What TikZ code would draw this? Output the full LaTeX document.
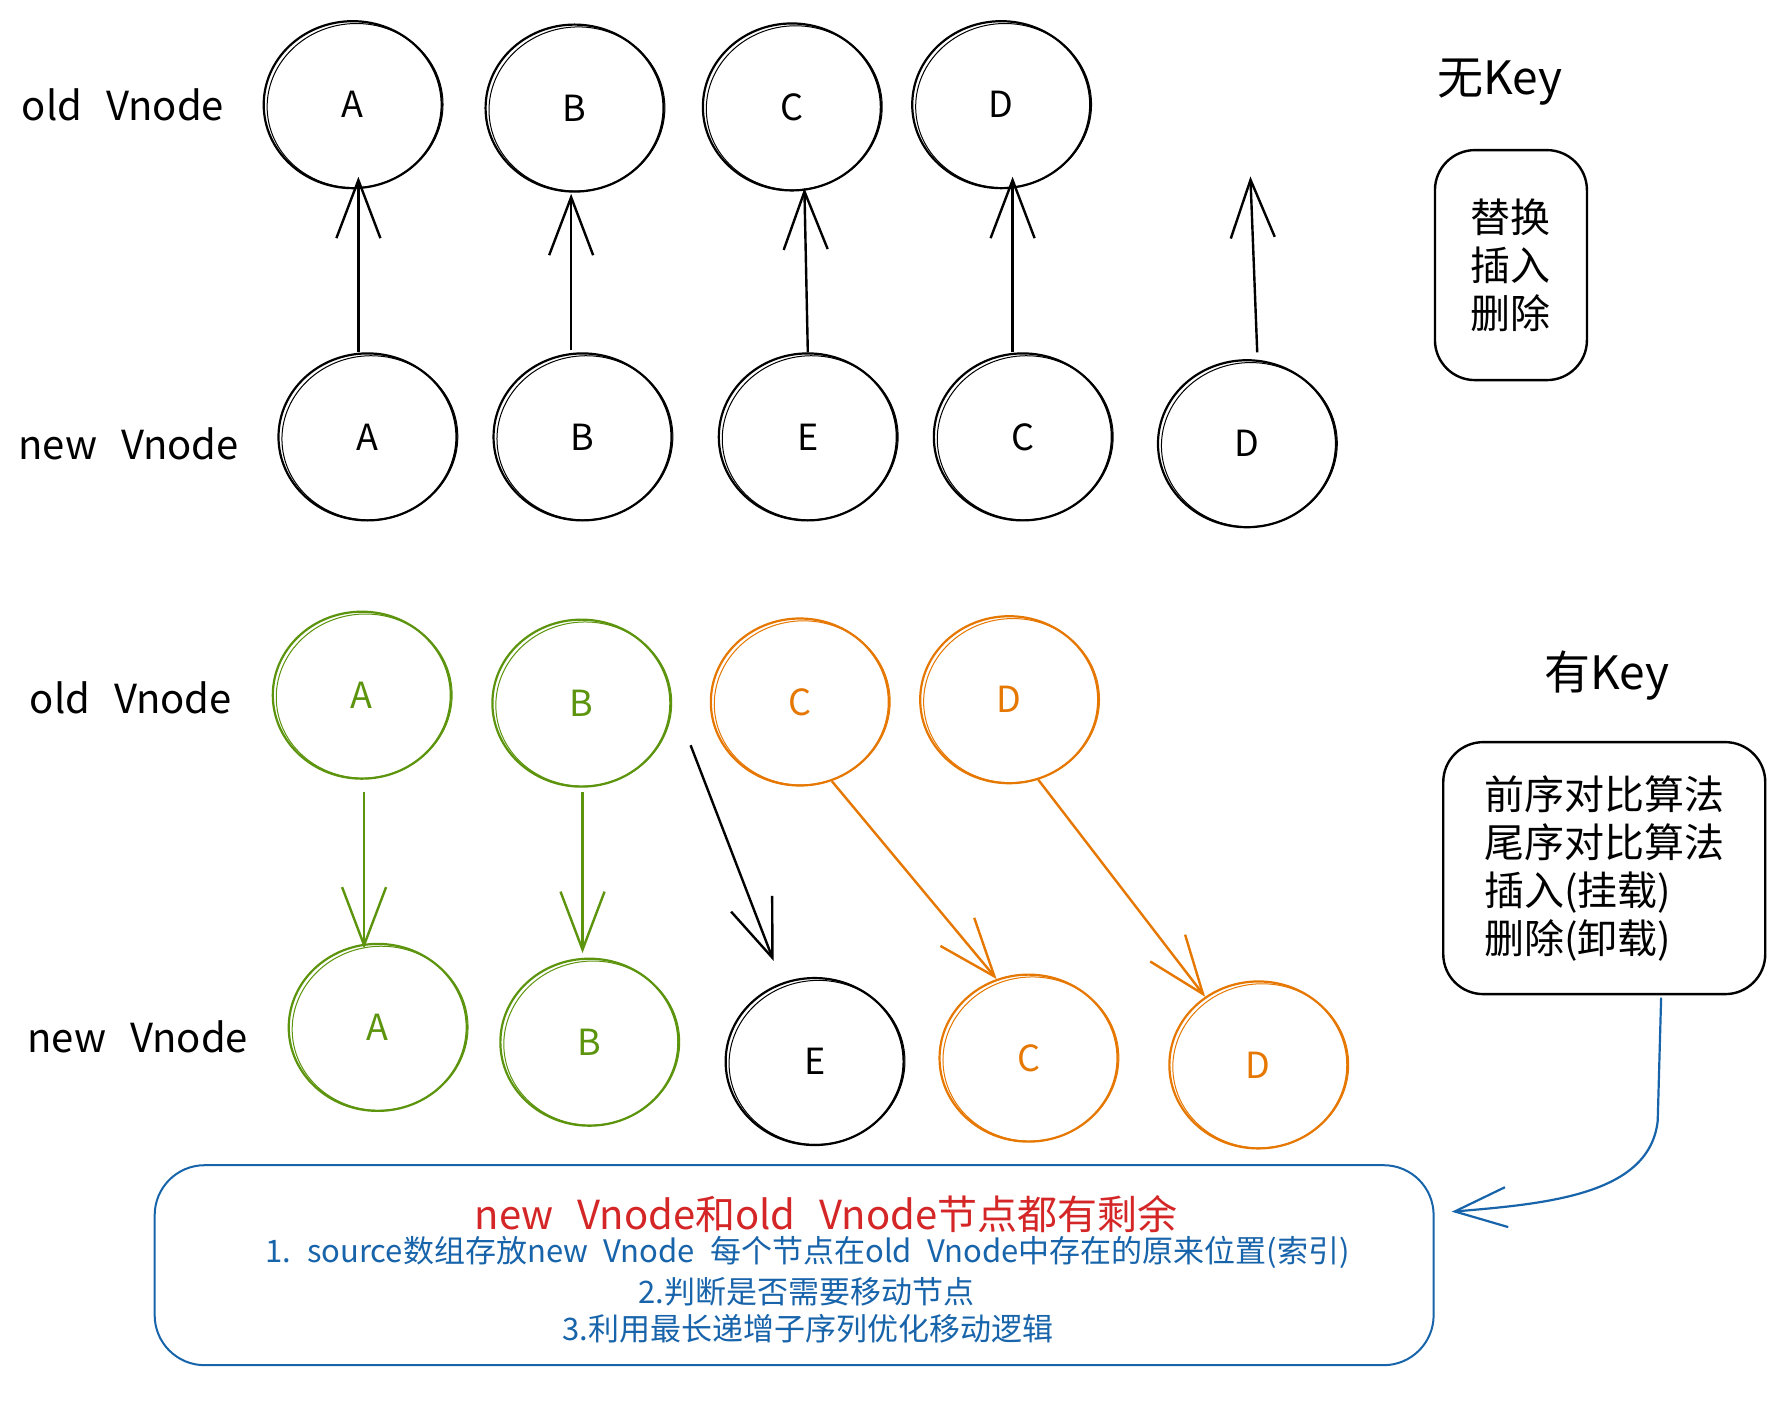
\documentclass[tikz,border=0pt]{standalone}
\usepackage{fontspec}
\setmainfont{Noto Sans CJK SC}
\usetikzlibrary{arrows.meta,shapes.geometric,calc}
\definecolor{exgreen}{HTML}{5C940D}
\definecolor{exorange}{HTML}{E67700}
\definecolor{exblue}{HTML}{1864AB}
\definecolor{exred}{HTML}{D42626}
\newcommand\skring[2]{\draw[#2, line width=1pt, shift={(#1.center)}, rotate=6] (2,1) ellipse (88pt and 82pt);}
\begin{document}
\begin{tikzpicture}[x=1.1378pt,y=-1.1378pt,
  circ/.style={ellipse, draw, line width=2.2pt, minimum width=178pt, minimum height=167pt, inner sep=0pt, font=\fontsize{36}{40}\selectfont},
  lbl/.style={font=\fontsize{40}{44}\selectfont},
  ttl/.style={font=\fontsize{46}{50}\selectfont},
  boxtxt/.style={font=\fontsize{40}{48}\selectfont},
  arr/.style={line width=2.4pt, -{Straight Barb[length=58pt,width=44pt,line width=2.4pt]}},
  sbox/.style={draw, line width=2.4pt, rounded corners=40pt, inner sep=0pt}
]
\useasboundingbox (0,0) rectangle (1568,1236);
\fill[white] (0,0) rectangle (1568,1236);

% ---------- top: without key ----------
\node[lbl] (lo1) at (108,92) {old\hspace{0.6em}Vnode};
\node[lbl] (ln1) at (113,390) {new\hspace{0.6em}Vnode};

\node[circ] (oA) at (310,92) {A}; \skring{oA}{black}
\node[circ] (oB) at (505,95) {B}; \skring{oB}{black}
\node[circ] (oC) at (696,94) {C}; \skring{oC}{black}
\node[circ] (oD) at (880,92) {D}; \skring{oD}{black}

\node[circ] (nA) at (323,384) {A}; \skring{nA}{black}
\node[circ] (nB) at (512,384) {B}; \skring{nB}{black}
\node[circ] (nE) at (710,384) {E}; \skring{nE}{black}
\node[circ] (nC) at (899,384) {C}; \skring{nC}{black}
\node[circ] (nD) at (1096,390) {D}; \skring{nD}{black}

\coordinate (freeTop) at (1099,155);
\draw[arr] ($(nA.north)+(-8,0)$) -- ($(oA.south)+(5,-11)$);
\draw[arr] ($(nB.north)+(-10,-2)$) -- ($(oB.south)+(-3,1)$);
\draw[arr] (nE.north) -- ($(oC.south)+(11,-3)$);
\draw[arr] ($(nC.north)+(-9,0)$) -- ($(oD.south)+(10,-11)$);
\draw[arr] ($(nD.north)+(9,-6)$) -- (freeTop);

\node[ttl] (wk) at (1318,72) {无Key};
\node[sbox, boxtxt, align=center, minimum width=152pt, minimum height=230pt] (wkbox) at (1328,233) {替换\\插入\\删除};

% ---------- bottom: with key ----------
\node[lbl] (lo2) at (115,613) {old\hspace{0.6em}Vnode};
\node[lbl] (ln2) at (121,911) {new\hspace{0.6em}Vnode};

\node[circ, draw=exgreen, text=exgreen] (oA2) at (318,611) {A}; \skring{oA2}{exgreen}
\node[circ, draw=exgreen, text=exgreen] (oB2) at (511,618) {B}; \skring{oB2}{exgreen}
\node[circ, draw=exorange, text=exorange] (oC2) at (703,617) {C}; \skring{oC2}{exorange}
\node[circ, draw=exorange, text=exorange] (oD2) at (887,615) {D}; \skring{oD2}{exorange}

\node[circ, draw=exgreen, text=exgreen] (nA2) at (332,903) {A}; \skring{nA2}{exgreen}
\node[circ, draw=exgreen, text=exgreen] (nB2) at (518,916) {B}; \skring{nB2}{exgreen}
\node[circ] (nE2) at (716,933) {E}; \skring{nE2}{black}
\node[circ, draw=exorange, text=exorange] (nC2) at (904,930) {C}; \skring{nC2}{exorange}
\node[circ, draw=exorange, text=exorange] (nD2) at (1106,936) {D}; \skring{nD2}{exorange}

\coordinate (freeBlack) at (607,655);
\draw[arr, exgreen] ($(oA2.south)+(2,11)$) -- ($(nA2.north)+(-12,5)$);
\draw[arr, exgreen] ($(oB2.south)+(1,4)$) -- ($(nB2.north)+(-6,-4)$);
\draw[arr] (freeBlack) -- ($(nE2.north)+(-36,-14)$);
\draw[arr, exorange] (oC2.-68) -- (nC2.112);
\draw[arr, exorange] (oD2.-70) -- (nD2.128);

\node[ttl] (yk) at (1412,594) {有Key};
\node[sbox, boxtxt, align=left, minimum width=322pt, minimum height=252pt] (ykbox) at (1410,763) {前序对比算法\\尾序对比算法\\插入(挂载)\\删除(卸载)};

% ---------- summary box ----------
\node[sbox, draw=exblue, line width=2pt, rounded corners=50pt, minimum width=1279pt, minimum height=200pt] (bbox) at (698,1112) {};
\node[font=\fontsize{40}{44}\selectfont, text=exred] (t1) at (726,1067) {new\hspace{0.6em}Vnode和old\hspace{0.6em}Vnode节点都有剩余};
\node[font=\fontsize{31}{36}\selectfont, text=exblue] (t2) at (710,1101) {1.\hspace{0.5em}source数组存放new\hspace{0.5em}Vnode\hspace{0.5em}每个节点在old\hspace{0.5em}Vnode中存在的原来位置(索引)};
\node[font=\fontsize{31}{36}\selectfont, text=exblue] (t3) at (709,1135) {2.判断是否需要移动节点};
\node[font=\fontsize{31}{36}\selectfont, text=exblue] (t4) at (710,1168) {3.利用最长递增子序列优化移动逻辑};

\coordinate (bend) at ($(bbox.east)+(15,-47)$);
\draw[exblue, line width=2.2pt, -{Straight Barb[length=52pt,width=40pt,line width=2.2pt]}]
  ($(ykbox.south)+(50,2)$) -- (1457,985) .. controls (1450,1050) and (1360,1058) .. (bend);
\end{tikzpicture}
\end{document}
